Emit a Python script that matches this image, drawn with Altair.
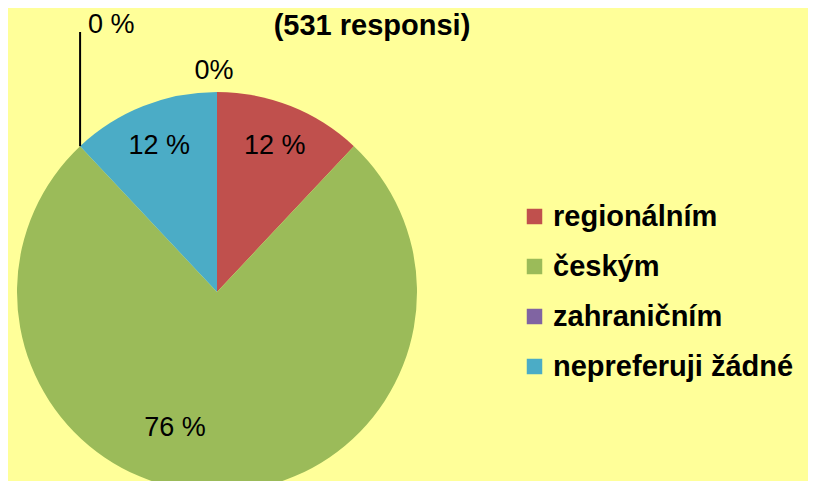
import altair as alt
import pandas as pd

categories = ["regionálním", "českým", "zahraničním", "nepreferuji žádné"]
values = [12, 76, 0, 12]
order_idx = [0, 1, 2, 3]
colors = ["#C0504D", "#9BBB59", "#8064A2", "#4BACC6"]
title_text = "(531 responsi)"
extra_label = "0%"

df = pd.DataFrame({"cat": categories, "value": values, "idx": order_idx})
df["label"] = df["value"].astype(str) + " %"

CX, CY, R, LR = 209, 284, 200, 157
FONT = "Liberation Sans"

base = alt.Chart(df)

color_enc = alt.Color(
    "cat:N",
    scale=alt.Scale(domain=categories, range=colors),
    sort=categories,
    legend=alt.Legend(
        title=None, orient="none", legendX=512, legendY=194,
        symbolType="square", symbolSize=240, symbolStrokeWidth=0,
        labelFont=FONT, labelFontSize=29, labelFontWeight="bold",
        labelColor="black", labelOffset=4, rowPadding=20, labelLimit=400,
    ),
)

pie = base.mark_arc(outerRadius=R, strokeWidth=0).encode(
    theta=alt.Theta("value:Q", stack=True),
    color=color_enc,
    order=alt.Order("idx:Q"),
    x=alt.value(CX),
    y=alt.value(CY),
)

pos = base.transform_joinaggregate(total="sum(value)").transform_window(
    cum="sum(value)", sort=[alt.SortField("idx")], frame=[None, 0]
).transform_calculate(
    mid="(datum.cum - datum.value/2)/datum.total*2*PI",
    start="(datum.cum - datum.value)/datum.total*2*PI",
).transform_calculate(
    tx=f"{CX} + {LR}*sin(datum.mid)",
    ty=f"{CY} - {LR}*cos(datum.mid)",
    lx=f"{CX} + {R}*sin(datum.start)",
    ly=f"{CY} - {R}*cos(datum.start)",
)

labels = pos.transform_filter("datum.value > 0 && datum.idx != 1").mark_text(
    font=FONT, fontSize=27, color="black", align="center", baseline="middle"
).encode(
    x=alt.X("tx:Q", scale=None), y=alt.Y("ty:Q", scale=None), text="label:N"
)

green_label = pos.transform_filter("datum.idx == 1").mark_text(
    font=FONT, fontSize=27, color="black", align="center", baseline="middle",
    dx=-42, dy=-21,
).encode(
    x=alt.X("tx:Q", scale=None), y=alt.Y("ty:Q", scale=None), text="label:N"
)

zero = pos.transform_filter("datum.value == 0")
leader = zero.mark_rule(color="black", strokeWidth=2).encode(
    x=alt.X("lx:Q", scale=None), y=alt.Y("ly:Q", scale=None), y2=alt.value(24)
)
zero_text = zero.mark_text(
    font=FONT, fontSize=27, color="black", align="left", baseline="alphabetic", dx=8
).encode(
    x=alt.X("lx:Q", scale=None), y=alt.value(25), text="label:N"
)

top_text = alt.Chart(pd.DataFrame({"t": [extra_label]})).mark_text(
    font=FONT, fontSize=27, color="black", align="center", baseline="alphabetic"
).encode(x=alt.value(CX - 3), y=alt.value(71), text="t:N")

title = alt.Chart(pd.DataFrame({"t": [title_text]})).mark_text(
    font=FONT, fontSize=29, fontWeight="bold", color="black",
    align="center", baseline="alphabetic",
).encode(x=alt.value(364), y=alt.value(27), text="t:N")

chart = alt.layer(pie, labels, green_label, leader, zero_text, top_text, title).properties(
    width=800, height=473,
    autosize=alt.AutoSizeParams(type="fit", contains="padding"),
    padding=0,
    background="#FFFF99",
).configure_view(stroke=None)

chart.save("out.html", embed_options={"renderer": "svg", "actions": False})
